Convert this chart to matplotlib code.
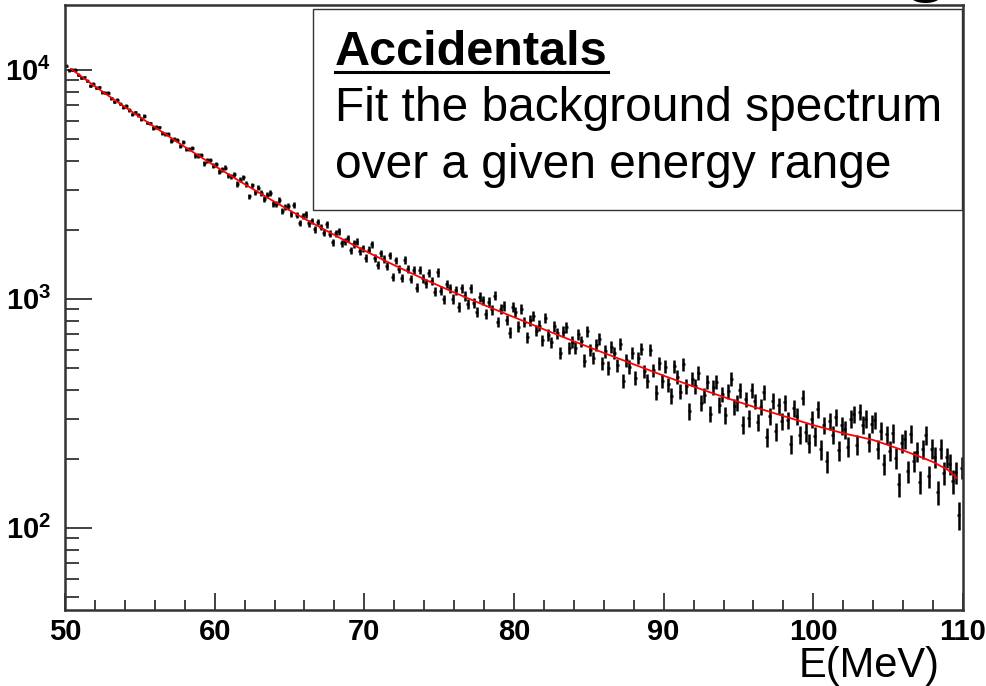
import numpy as np
import matplotlib.pyplot as plt
from matplotlib.lines import Line2D
from matplotlib.patches import Rectangle
from matplotlib.ticker import FixedLocator, LogLocator, MultipleLocator, NullFormatter

plt.rcParams['font.family'] = ['Liberation Sans', 'DejaVu Sans']
plt.rcParams['mathtext.fontset'] = 'custom'
plt.rcParams['mathtext.rm'] = 'Liberation Sans'
plt.rcParams['mathtext.bf'] = 'Liberation Sans:bold'

# Histogram binning (MeV) and per-entry weight of the accidental sample
e_min, e_max, bin_width = 50.0, 110.0, 0.2
event_weight = 2.2

# Weighted background counts per 0.2 MeV bin, 50 -> 110 MeV
counts = [
    10448, 9983, 10017, 10004, 9508, 9230, 9295, 8986, 8520, 8679,
    8353, 8385, 7967, 7944, 7950, 7518, 7265, 7407, 7125, 6898,
    6948, 6672, 6385, 6518, 6356, 6080, 6287, 5890, 5837, 5549,
    5616, 5604, 5292, 5247, 5268, 4912, 4978, 4931, 4665, 4828,
    4512, 4523, 4574, 4231, 4222, 4244, 3909, 4032, 4043, 3811,
    3869, 3592, 3673, 3733, 3467, 3436, 3495, 3173, 3311, 3392,
    3176, 2800, 3135, 2918, 3063, 2898, 2731, 2837, 2898, 2598,
    2596, 2699, 2426, 2528, 2535, 2340, 2566, 2324, 2147, 2308,
    2337, 2135, 2189, 2014, 2167, 2063, 1949, 2118, 1925, 1768,
    1935, 1972, 1752, 1781, 1841, 1630, 1738, 1775, 1619, 1664,
    1511, 1641, 1730, 1510, 1404, 1579, 1491, 1393, 1549, 1244,
    1472, 1357, 1237, 1477, 1346, 1224, 1335, 1119, 1341, 1228,
    1171, 1302, 1197, 1076, 1306, 1085, 996, 1163, 1114, 1001,
    1091, 926, 1111, 1031, 950, 1111, 963, 880, 1019, 984,
    863, 968, 899, 1032, 792, 903, 934, 809, 712, 923,
    875, 756, 904, 792, 681, 807, 844, 726, 764, 659,
    828, 697, 645, 759, 710, 582, 720, 750, 613, 651,
    613, 702, 653, 538, 722, 601, 552, 629, 670, 525,
    590, 500, 615, 581, 513, 636, 440, 540, 505, 583,
    451, 553, 606, 482, 439, 600, 488, 390, 524, 439,
    506, 423, 378, 507, 456, 394, 519, 416, 323, 448,
    416, 476, 352, 380, 434, 315, 411, 435, 345, 385,
    311, 396, 446, 339, 353, 400, 282, 365, 301, 400,
    358, 289, 338, 393, 250, 308, 359, 264, 343, 292,
    353, 296, 233, 333, 308, 255, 371, 262, 235, 298,
    252, 330, 220, 281, 195, 293, 255, 305, 218, 280,
    270, 226, 300, 313, 231, 321, 282, 300, 237, 285,
    295, 221, 265, 190, 256, 217, 259, 202, 155, 235,
    245, 177, 258, 196, 215, 159, 221, 254, 168, 222,
    204, 143, 222, 174, 203, 190, 160, 175, 114, 183,
]

# Fitted background function, sampled over the fit range
fit_e = [50.4, 52, 54, 56, 58, 60, 62, 64, 66, 68, 70, 72, 74, 76, 78, 80,
         82, 84, 86, 88, 90, 92, 94, 96, 98, 100, 102, 104, 105, 106, 107,
         108, 109, 109.6]
fit_counts = [10100, 8472, 6887, 5623, 4613, 3811, 3170, 2655, 2239, 1901,
              1626, 1403, 1219, 1067, 940, 832, 736, 653, 581, 518, 462, 414,
              373, 338, 308, 281, 259, 242, 230, 218, 206, 194, 179, 165]

x_ticks = [50, 60, 70, 80, 90, 100, 110]
y_ticks = [1e2, 1e3, 1e4]
y_labels = [r'$\mathbf{10^{2}}$', r'$\mathbf{10^{3}}$', r'$\mathbf{10^{4}}$']

centers = e_min + bin_width * (np.arange(len(counts)) + 0.5)
errors = np.sqrt(np.array(counts) * event_weight)

W, H = 986, 686
fig = plt.figure(figsize=(W / 100, H / 100), dpi=100)
ax = fig.add_axes([65 / W, 1 - 610 / H, 898 / W, 605 / H])

ax.errorbar(centers, counts, yerr=errors, xerr=bin_width / 2, fmt='none',
            ecolor='black', elinewidth=1.8, capsize=0, zorder=2)
ax.plot(fit_e, fit_counts, color='red', lw=1.3, zorder=3)

ax.set_yscale('log')
ax.set_xlim(e_min, e_max)
ax.set_ylim(43.8, 19200)

frame_col = '#333333'
for side in ax.spines.values():
    side.set_color(frame_col)
    side.set_linewidth(1.8)

ax.xaxis.set_major_locator(FixedLocator(x_ticks))
ax.xaxis.set_minor_locator(MultipleLocator(2))
ax.set_xticklabels([str(v) for v in x_ticks], fontweight='bold')
ax.yaxis.set_major_locator(FixedLocator(y_ticks))
ax.yaxis.set_minor_locator(LogLocator(base=10, subs=np.arange(2, 10)))
ax.yaxis.set_minor_formatter(NullFormatter())
ax.set_yticklabels(y_labels)

ax.tick_params(axis='both', which='both', direction='in', color=frame_col,
               width=1.3, labelsize=21, top=False, right=False)
ax.tick_params(axis='y', which='major', length=19.5, pad=10)
ax.tick_params(axis='y', which='minor', length=10)
ax.tick_params(axis='x', which='major', length=12, pad=6)
ax.tick_params(axis='x', which='minor', length=7)

# Text panel
fig.add_artist(Rectangle((313 / W, 1 - 210 / H), 649 / W, 201 / H,
                         transform=fig.transFigure, facecolor='white',
                         edgecolor=frame_col, lw=1.0, zorder=4))
x_txt = 335 / W
title = fig.text(x_txt, 1 - 65 / H, 'Accidentals', fontsize=35,
                 fontweight='bold', va='baseline', zorder=5)
fig.text(x_txt, 1 - 121 / H, 'Fit the background spectrum', fontsize=34.5,
         va='baseline', zorder=5)
fig.text(x_txt, 1 - 178 / H, 'over a given energy range', fontsize=34.5,
         va='baseline', zorder=5)

fig.canvas.draw()
bb = title.get_window_extent()
y_ul = 1 - 72 / H
fig.add_artist(Line2D([bb.x0 / W, bb.x1 / W], [y_ul, y_ul], color='black',
                      lw=2.2, transform=fig.transFigure, zorder=5))

fig.text(940 / W, 1 - 677 / H, 'E(MeV)', fontsize=30, ha='right',
         va='baseline')
fig.text(900 / W, 1 + 16 / H, 'g', fontsize=66, va='baseline')

fig.savefig('out.png', dpi=100)
